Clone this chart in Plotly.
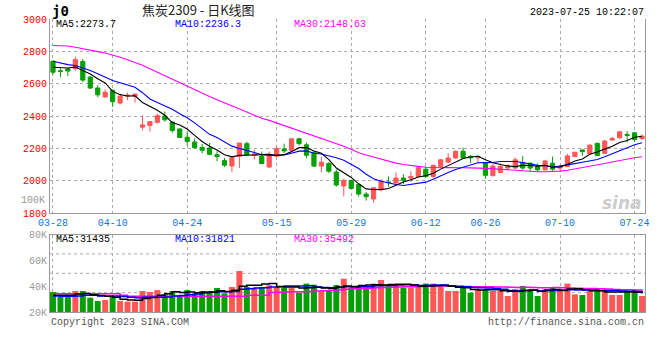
import plotly.graph_objects as go
import pandas as pd

# ---------------- data ----------------
dates = ["03-28", "03-29", "03-30", "03-31",
         "04-03", "04-04", "04-06", "04-07",
         "04-10", "04-11", "04-12", "04-13", "04-14",
         "04-17", "04-18", "04-19", "04-20", "04-21",
         "04-24", "04-25", "04-26", "04-27", "04-28",
         "05-04", "05-05",
         "05-08", "05-09", "05-10", "05-11", "05-12",
         "05-15", "05-16", "05-17", "05-18", "05-19",
         "05-22", "05-23", "05-24", "05-25", "05-26",
         "05-29", "05-30", "05-31", "06-01", "06-02",
         "06-05", "06-06", "06-07", "06-08", "06-09",
         "06-12", "06-13", "06-14", "06-15", "06-16",
         "06-19", "06-20", "06-21",
         "06-26", "06-27", "06-28", "06-29", "06-30",
         "07-03", "07-04", "07-05", "07-06", "07-07",
         "07-10", "07-11", "07-12", "07-13", "07-14",
         "07-17", "07-18", "07-19", "07-20", "07-21",
         "07-24", "07-25"]

opens = [2739, 2680, 2692, 2692, 2737, 2641, 2573, 2518, 2559, 2480,
         2522, 2522, 2331, 2341, 2361, 2400, 2363, 2320, 2269, 2239,
         2206, 2202, 2161, 2124, 2090, 2151, 2229, 2157, 2151, 2084,
         2151, 2196, 2186, 2259, 2222, 2176, 2090, 2106, 2053, 1967,
         2002, 1976, 1917, 1887, 1947, 1992, 1986, 2016, 2016, 2026,
         2071, 2026, 2088, 2115, 2140, 2182, 2151, 2141, 2110, 2031,
         2051, 2078, 2078, 2112, 2108, 2088, 2067, 2108, 2078, 2088,
         2149, 2190, 2165, 2231, 2169, 2251, 2265, 2286, 2296, 2261]
highs = [2743, 2696, 2692, 2767, 2753, 2645, 2590, 2565, 2563, 2539,
         2545, 2539, 2406, 2369, 2414, 2427, 2367, 2324, 2306, 2263,
         2227, 2233, 2182, 2141, 2147, 2233, 2241, 2192, 2180, 2180,
         2212, 2229, 2259, 2265, 2235, 2180, 2147, 2116, 2069, 2012,
         2006, 1980, 1931, 1956, 2010, 2026, 2050, 2040, 2059, 2081,
         2089, 2099, 2135, 2170, 2187, 2205, 2157, 2157, 2112, 2105,
         2108, 2102, 2143, 2153, 2112, 2108, 2129, 2149, 2098, 2165,
         2178, 2194, 2224, 2235, 2251, 2271, 2308, 2306, 2300, 2286]
lows = [2655, 2641, 2647, 2680, 2610, 2567, 2516, 2512, 2457, 2471,
        2498, 2482, 2310, 2304, 2353, 2365, 2296, 2265, 2218, 2198,
        2169, 2157, 2120, 2084, 2053, 2078, 2157, 2131, 2102, 2080,
        2147, 2171, 2182, 2218, 2139, 2086, 2053, 2047, 1963, 1902,
        1947, 1901, 1877, 1863, 1933, 1962, 1974, 1980, 1994, 2020,
        2016, 2014, 2082, 2108, 2136, 2134, 2108, 2108, 2012, 2026,
        2047, 2067, 2071, 2067, 2057, 2057, 2063, 2061, 2063, 2084,
        2147, 2153, 2163, 2153, 2165, 2247, 2261, 2237, 2241, 2251]
closes = [2671, 2676, 2678, 2749, 2622, 2573, 2531, 2547, 2488, 2522,
          2529, 2535, 2345, 2365, 2402, 2376, 2310, 2267, 2243, 2204,
          2188, 2163, 2149, 2096, 2141, 2233, 2161, 2165, 2106, 2151,
          2198, 2184, 2259, 2229, 2157, 2090, 2114, 2059, 1973, 2002,
          1952, 1917, 1901, 1956, 1996, 1988, 2016, 2002, 2026, 2081,
          2026, 2095, 2129, 2140, 2182, 2141, 2141, 2150, 2033, 2090,
          2088, 2094, 2129, 2078, 2078, 2067, 2122, 2071, 2088, 2153,
          2176, 2180, 2220, 2155, 2245, 2261, 2302, 2280, 2255, 2275]
volumes = [35500, 31900, 31600, 36300, 36300, 31100, 28500, 29300, 31900, 28500,
           28000, 28000, 36300, 35500, 37000, 33700, 36300, 33200, 37000, 34500,
           36300, 35500, 38600, 34500, 39400, 51800, 39400, 38900, 39400, 40700,
           39400, 38900, 38900, 35000, 42000, 41200, 36300, 36800, 40900, 45800,
           38900, 40200, 38900, 42000, 44800, 40900, 40900, 38900, 38900, 40200,
           42000, 42000, 39400, 36300, 36300, 40200, 35000, 37600, 37600, 36300,
           36300, 32400, 37600, 40200, 37600, 32400, 37600, 39400, 37600, 42000,
           33700, 33200, 36300, 37600, 36800, 33200, 33200, 36300, 37000, 32400]

# moving-average values at the start of the window (need days before 03-28)
ma5_head = [2702, 2700, 2697, 2703]
ma10_head = [2739, 2727, 2718, 2712, 2696, 2682, 2661, 2641, 2620]
ma30_head = [2836, 2835, 2833, 2825, 2815, 2806, 2798, 2790, 2778, 2763,
             2748, 2732, 2714, 2693, 2671, 2651, 2629, 2607, 2584, 2561,
             2541, 2521, 2501, 2483, 2465, 2445, 2425, 2405, 2386]
vma5_head = [33000, 33000, 33000, 34000]
vma10_head = [32500, 32300, 32200, 32500, 33000, 33000, 32500, 32300, 32500]
vma30_head = [34200, 34200, 34200, 34200, 34200, 34200, 34200, 34200, 34200, 33000,
              32200, 32200, 32200, 32200, 32200, 32200, 32200, 32200, 32200, 32200,
              32200, 32200, 32200, 32200, 32200, 32200, 33000, 33000, 33000]

tick_dates = ["03-28", "04-10", "04-24", "05-15", "05-29", "06-12", "06-26", "07-10", "07-24"]
price_ticks = [1800, 2000, 2200, 2400, 2600, 2800, 3000]
vol_ticks = [20000, 40000, 60000, 80000]
vol_tick_text = ["20K", "40K", "60K", "80K"]

title_text = "焦炭2309 - 日K线图"
time_text = "2023-07-25 10:22:07"
price_ma_labels = ["MA5:2273.7", "MA10:2236.3", "MA30:2148.63"]
vol_ma_labels = ["MA5:31435", "MA10:31821", "MA30:35492"]

# ---------------- styling ----------------
RED = "#ff5656"
GREEN = "#05a005"
MA_COLORS = ["#000000", "#0000ff", "#ff00ff"]
GRID = "#aaaaaa"
BORDER = "#999999"
MONO = "Liberation Mono, DejaVu Sans Mono, monospace"


def moving(values, n, head):
    s = pd.Series(values, dtype=float).rolling(n).mean().tolist()
    return list(head) + s[len(head):]


ma5 = moving(closes, 5, ma5_head)
ma10 = moving(closes, 10, ma10_head)
ma30 = moving(closes, 30, ma30_head)
vma5 = moving(volumes, 5, vma5_head)
vma10 = moving(volumes, 10, vma10_head)
vma30 = moving(volumes, 30, vma30_head)

fig = go.Figure()

fig.add_trace(go.Candlestick(
    x=dates, open=opens, high=highs, low=lows, close=closes,
    increasing=dict(line=dict(color=RED, width=1), fillcolor=RED),
    decreasing=dict(line=dict(color=GREEN, width=1), fillcolor=GREEN),
    whiskerwidth=0, xaxis="x", yaxis="y", showlegend=False, hoverinfo="skip"))

for vals, col in zip([ma30, ma10, ma5], [MA_COLORS[2], MA_COLORS[1], MA_COLORS[0]]):
    fig.add_trace(go.Scatter(x=dates, y=vals, mode="lines",
                             line=dict(color=col, width=1.1),
                             xaxis="x", yaxis="y", showlegend=False, hoverinfo="skip"))

vol_colors = [RED if c >= o else GREEN for o, c in zip(opens, closes)]
fig.add_trace(go.Bar(x=dates, y=volumes, marker=dict(color=vol_colors, line=dict(width=0)),
                     width=0.8, xaxis="x2", yaxis="y2", showlegend=False, hoverinfo="skip"))

for vals, col in zip([vma30, vma10, vma5], [MA_COLORS[2], MA_COLORS[1], MA_COLORS[0]]):
    fig.add_trace(go.Scatter(x=dates, y=vals, mode="lines",
                             line=dict(color=col, width=1.5, shape="hv"),
                             xaxis="x2", yaxis="y2", showlegend=False, hoverinfo="skip"))

# geometry helpers (pixel -> paper)
L, R, T, B = 50, 11, 19, 48
W, H = 660, 360
PW, PH = W - L - R, H - T - B


def px(xp, yp):
    return (xp - L) / PW, (H - B - yp) / PH


price_bottom = px(0, 213)[1]
vol_top = px(0, 234.6)[1]

fig.update_layout(
    width=W, height=H,
    margin=dict(l=L, r=R, t=T, b=B),
    paper_bgcolor="white", plot_bgcolor="white",
    boxgap=0.2, bargap=0.2,
    showlegend=False,
    hovermode=False,
    xaxis=dict(domain=[0, 1], anchor="y", type="category", range=[-0.4, 79.4],
               rangeslider=dict(visible=False),
               tickmode="array", tickvals=tick_dates, ticktext=tick_dates,
               tickfont=dict(family=MONO, size=10, color="#1177dd"),
               showgrid=True, gridcolor=GRID, griddash="dot", gridwidth=1,
               showline=True, linecolor=BORDER, linewidth=1, mirror=False,
               ticks="", zeroline=False),
    yaxis=dict(domain=[price_bottom, 1], anchor="x", range=[1800, 3000],
               tickmode="array", tickvals=price_ticks,
               tickfont=dict(family=MONO, size=10, color="#ee0000"),
               showgrid=True, gridcolor=GRID, griddash="dot", gridwidth=1,
               showline=True, linecolor=BORDER, linewidth=1, mirror=True,
               ticks="", zeroline=False),
    xaxis2=dict(domain=[0, 1], anchor="y2", type="category", matches="x",
                showticklabels=False,
                tickmode="array", tickvals=tick_dates,
                showgrid=True, gridcolor=GRID, griddash="dot", gridwidth=1,
                showline=True, linecolor=BORDER, linewidth=1, mirror=True,
                ticks="", zeroline=False),
    yaxis2=dict(domain=[0, vol_top], anchor="x2", range=[20000, 80000],
                tickmode="array", tickvals=vol_ticks, ticktext=vol_tick_text,
                tickfont=dict(family=MONO, size=10, color="#999999"),
                showgrid=False,
                showline=True, linecolor=BORDER, linewidth=1, mirror=True,
                ticks="", zeroline=False),
)

for f in [0.25, 0.5, 0.75]:
    fig.add_shape(type="line", xref="x2 domain", yref="y2 domain", x0=0, x1=1, y0=f, y1=f,
                  line=dict(color=GRID, width=1, dash="dot"), layer="below")


def note(text, xp, yp, color="#000000", size=10, family=MONO, xanchor="left", **kw):
    x, y = px(xp, yp)
    fig.add_annotation(text=text, x=x, y=y, xref="paper", yref="paper",
                       xanchor=xanchor, yanchor="middle", showarrow=False,
                       font=dict(family=family, size=size, color=color), **kw)


note("<b>j0</b>", 50, 11, size=14, family="DejaVu Sans Mono")
note(title_text, 200, 10, size=13, family="Noto Sans CJK SC", color="#222222", xanchor="center")
note(time_text, 650, 12, xanchor="right")
for lab, xp, col in zip(price_ma_labels, [54, 174, 294], MA_COLORS):
    note(lab, xp, 24, color=col)
for lab, xp, col in zip(vol_ma_labels, [54, 174, 294], MA_COLORS):
    note(lab, xp, 239, color=col)
note("100K", 47, 200, color="#999999", xanchor="right")
note("Copyright 2023 SINA.COM", 49, 323, color="#555555")
note("http://finance.sina.com.cn", 650, 323, color="#555555", xanchor="right")
note("<b><i>sina</i></b>", 626, 203, size=17, family="DejaVu Sans", color="#cccccc", xanchor="center")

fig.write_html("out.html",
               config={"displayModeBar": False, "staticPlot": True},
               post_script="document.body.style.margin='0';document.body.style.padding='0';")
